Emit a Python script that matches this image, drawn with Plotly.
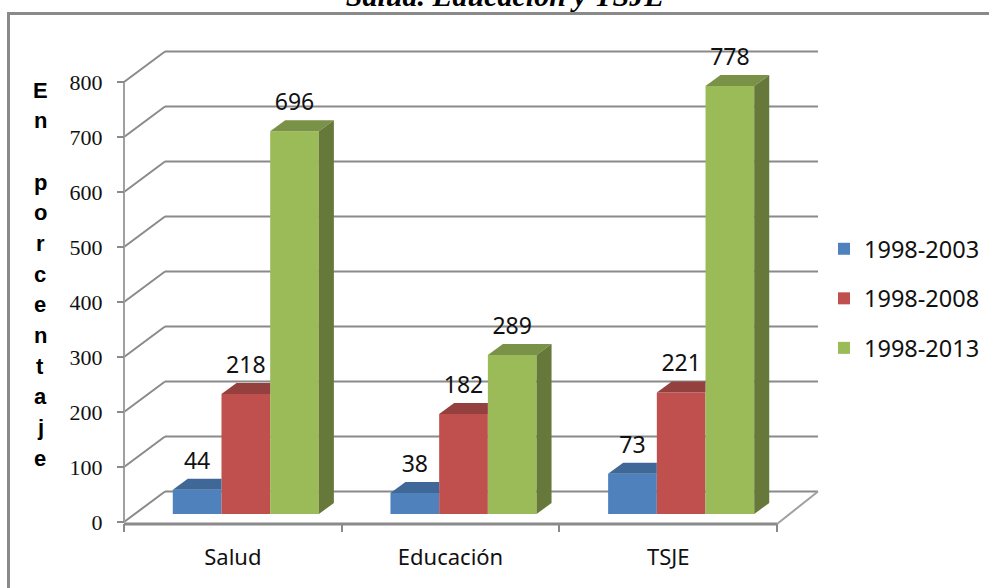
import plotly.graph_objects as go

categories = ["Salud", "Educación", "TSJE"]
periods = ["1998-2003", "1998-2008", "1998-2013"]
serie_2003 = [44, 38, 73]
serie_2008 = [218, 182, 221]
serie_2013 = [696, 289, 778]
series = [serie_2003, serie_2008, serie_2013]
front_colors = ["#4F81BD", "#C0504D", "#9BBB59"]
top_colors = ["#3F6797", "#94403E", "#7A9148"]
side_colors = ["#3A5A84", "#7F3735", "#66793B"]
y_ticks = [0, 100, 200, 300, 400, 500, 600, 700, 800]
axis_letters = ["E", "n", "", "p", "o", "r", "c", "e", "n", "t", "a", "j", "e"]

W, H = 989, 588
PX_X = 217.67   # pixels per category
PX_Y = 0.55     # pixels per unit
X0_PX, Y0_PX = 124, 522
GRID = "#8A8A8A"

dx_wall, dy_wall = 41 / PX_X, 30.5 / PX_Y
dx_bar, dy_bar = 15 / PX_X, 11 / PX_Y
shift_x, base_y = 13 / PX_X, 8 / PX_Y
bar_w = 48.7 / PX_X
n = len(categories)

fig = go.Figure()

# front faces
for s, (name, vals, col) in enumerate(zip(periods, series, front_colors)):
    fig.add_trace(go.Bar(
        name=name, x=[i + 0.5 + shift_x + (s - 1) * bar_w for i in range(n)],
        y=vals, base=[base_y] * n, width=bar_w, marker=dict(color=col, line_width=0),
        legendgroup=name, hoverinfo="skip"))

# tops and sides (a taller neighbour on the right hides the back-right part)
for s, (vals, tc, sc) in enumerate(zip(series, top_colors, side_colors)):
    for i, v in enumerate(vals):
        cx = i + 0.5 + shift_x + (s - 1) * bar_w
        xl, xr = cx - bar_w / 2, cx + bar_w / 2
        t = v + base_y
        hidden = s < len(series) - 1
        xs = [xl, xr, xr if hidden else xr + dx_bar, xl + dx_bar, xl]
        ys = [t, t, t + dy_bar, t + dy_bar, t]
        fig.add_trace(go.Scatter(x=xs, y=ys, mode="lines", fill="toself", fillcolor=tc,
                                 line=dict(width=0, color=tc), showlegend=False, hoverinfo="skip"))
        if not hidden:
            xs = [xr, xr + dx_bar, xr + dx_bar, xr, xr]
            ys = [t, t + dy_bar, base_y + dy_bar, base_y, t]
            fig.add_trace(go.Scatter(x=xs, y=ys, mode="lines", fill="toself", fillcolor=sc,
                                     line=dict(width=0, color=sc), showlegend=False, hoverinfo="skip"))

# value labels
for s, vals in enumerate(series):
    fig.add_trace(go.Scatter(
        x=[i + 0.5 + shift_x + (s - 1) * bar_w for i in range(n)],
        y=[v + base_y + 27 / PX_Y for v in vals],
        mode="text", text=[str(v) for v in vals], textposition="middle center",
        textfont=dict(family="Noto Sans", size=23, color="#111111"),
        showlegend=False, hoverinfo="skip"))

# walls
shapes = []
def seg(x0, y0, x1, y1, w=2, c=GRID):
    shapes.append(dict(type="line", x0=x0, y0=y0, x1=x1, y1=y1, layer="below",
                       line=dict(color=c, width=w)))
for t in y_ticks:
    seg(0, t, dx_wall, t + dy_wall)
    seg(dx_wall, t + dy_wall, n + dx_wall, t + dy_wall)
seg(0, y_ticks[0], 0, y_ticks[-1], 2, "#A0A0A0")
seg(0, -2 / PX_Y, n, -2 / PX_Y, 3, "#8A8A8A")
seg(n, -2 / PX_Y, n + dx_wall, dy_wall, 2, "#A0A0A0")

# frame, running past the right and bottom edges of the page
shapes.append(dict(type="rect", xref="paper", yref="paper", x0=8.5 / W, x1=1.02,
                   y0=-0.05, y1=1 - 13.5 / H, layer="below",
                   line=dict(color="#8A8A8A", width=3), fillcolor="rgba(0,0,0,0)"))

# stacked axis title
annotations = []
for k, ch in enumerate(axis_letters):
    if ch:
        annotations.append(dict(xref="paper", yref="paper", x=40 / W, y=1 - (90 + k * 30.67) / H,
                                text=ch, showarrow=False, xanchor="center", yanchor="middle",
                                font=dict(family="Liberation Sans", size=22, color="#000000",
                                          weight="bold")))

fig.update_layout(
    width=W, height=H, margin=dict(l=0, r=0, t=0, b=0),
    paper_bgcolor="white", plot_bgcolor="rgba(0,0,0,0)", barmode="overlay",
    title=dict(text="<b><i>Salud. Educación y TSJE</i></b>", x=505 / W, xanchor="center",
               y=1 - 6 / H, yanchor="bottom",
               font=dict(family="Liberation Serif", size=30, color="#000000")),
    xaxis=dict(range=[-X0_PX / PX_X, (W - X0_PX) / PX_X], anchor="free",
               position=(H - Y0_PX - 1) / H, showgrid=False, zeroline=False, showline=False,
               tickmode="array", tickvals=[i + 0.5 for i in range(n)], ticktext=categories,
               ticks="", ticklen=0, ticklabelstandoff=19,
               minor=dict(tickmode="array", tickvals=list(range(n + 1)), ticks="outside",
                          ticklen=8, tickwidth=2, tickcolor=GRID, showgrid=False),
               tickfont=dict(family="Noto Sans", size=22, color="#111111")),
    yaxis=dict(range=[-(H - Y0_PX) / PX_Y, Y0_PX / PX_Y], anchor="free",
               position=X0_PX / W, showgrid=False, zeroline=False, showline=False,
               tickmode="array", tickvals=y_ticks, ticks="outside", ticklen=7, tickwidth=2,
               tickcolor=GRID, ticklabelstandoff=10,
               tickfont=dict(family="Liberation Sans Narrow", size=22, color="#111111")),
    legend=dict(x=824 / W, y=1 - 227 / H, xanchor="left", yanchor="top", traceorder="grouped",
                tracegroupgap=16, bgcolor="rgba(0,0,0,0)",
                font=dict(family="Noto Sans", size=23.5, color="#111111")),
    shapes=shapes, annotations=annotations, showlegend=True,
)
fig.write_html("out.html", config=dict(displayModeBar=False),
               post_script="document.body.style.margin='0';document.body.style.overflow='hidden';")
